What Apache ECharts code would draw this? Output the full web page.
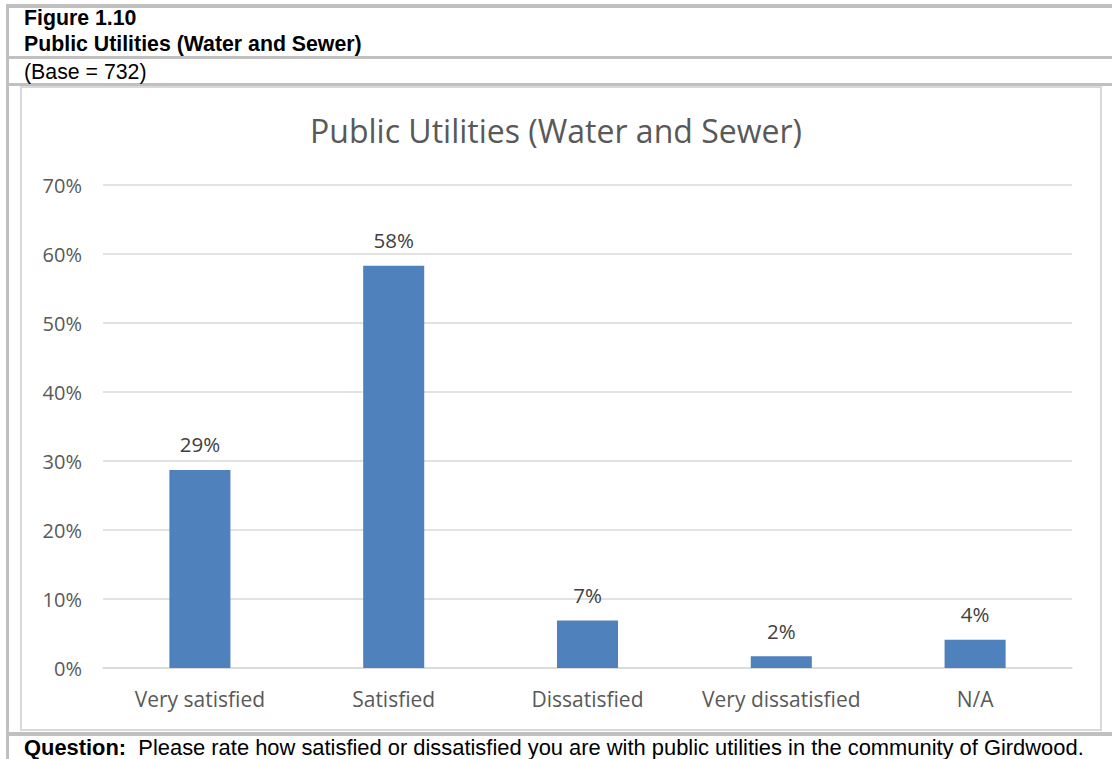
<!DOCTYPE html>
<html>
<head>
<meta charset="utf-8">
<script src="https://cdn.jsdelivr.net/npm/echarts@6/dist/echarts.min.js"></script>
<style>
html,body{margin:0;padding:0;background:#fff;width:1112px;height:759px;overflow:hidden;}
.ln{position:absolute;background:#c0c0c0;}
.txt{position:absolute;left:24px;font-family:"Liberation Sans",Arial,sans-serif;color:#000;white-space:nowrap;line-height:1;}
#box{position:absolute;left:20px;top:86px;width:1078px;height:641px;border:2px solid #d9d9d9;}
#chart{position:absolute;left:0;top:0;width:1112px;height:759px;}
</style>
</head>
<body>
<div class="ln" style="left:6px;top:4px;width:1106px;height:4px;"></div>
<div class="ln" style="left:6px;top:4px;width:3px;height:755px;"></div>
<div class="ln" style="left:9px;top:56px;width:1103px;height:3px;"></div>
<div class="ln" style="left:9px;top:83px;width:1103px;height:3px;"></div>
<div class="ln" style="left:9px;top:732px;width:1103px;height:4px;"></div>
<div id="box"></div>
<div class="txt" style="top:8px;font-size:21.3px;font-weight:bold;">Figure 1.10</div>
<div class="txt" style="top:34px;font-size:21.3px;font-weight:bold;">Public Utilities (Water and Sewer)</div>
<div class="txt" style="top:62px;font-size:21.3px;">(Base = 732)</div>
<div class="txt" style="top:737px;font-size:21.9px;"><b>Question:</b>&nbsp; Please rate how satisfied or dissatisfied you are with public utilities in the community of Girdwood.</div>
<div id="chart"></div>
<script>
var chartTitle = 'Public Utilities (Water and Sewer)';
var categories = ['Very satisfied', 'Satisfied', 'Dissatisfied', 'Very dissatisfied', 'N/A'];
var values = [28.7, 58.3, 6.9, 1.7, 4.1];
var yTicks = [0, 10, 20, 30, 40, 50, 60, 70];

var chart = echarts.init(document.getElementById('chart'), null, {renderer: 'svg'});
var font = '"Open Sans", "Noto Sans", sans-serif';
chart.setOption({
  backgroundColor: 'transparent',
  animation: false,
  title: {
    text: chartTitle,
    left: 'center',
    top: 109,
    textStyle: {fontFamily: font, fontSize: 32, fontWeight: 'normal', color: '#595959'}
  },
  grid: {left: 103, right: 40, top: 185, bottom: 91, containLabel: false},
  xAxis: {
    type: 'category',
    data: categories,
    axisLine: {lineStyle: {color: '#d9d9d9', width: 1.5}},
    axisTick: {show: false},
    axisLabel: {fontFamily: font, fontSize: 21, color: '#595959', margin: 20, interval: 0}
  },
  yAxis: {
    type: 'value',
    min: yTicks[0],
    max: yTicks[yTicks.length - 1],
    interval: 10,
    axisLine: {show: false},
    axisTick: {show: false},
    splitLine: {lineStyle: {color: '#d9d9d9', width: 1.5}},
    axisLabel: {fontFamily: font, fontSize: 20, color: '#595959', margin: 21, formatter: '{value}%'}
  },
  series: [{
    type: 'bar',
    data: values,
    barWidth: '31.5%',
    itemStyle: {color: '#4f81bd'},
    label: {
      show: true,
      position: 'top',
      distance: 15,
      fontFamily: font,
      fontSize: 20.5,
      color: '#404040',
      formatter: function (p) { return Math.round(p.value) + '%'; }
    }
  }]
});
</script>
</body>
</html>
